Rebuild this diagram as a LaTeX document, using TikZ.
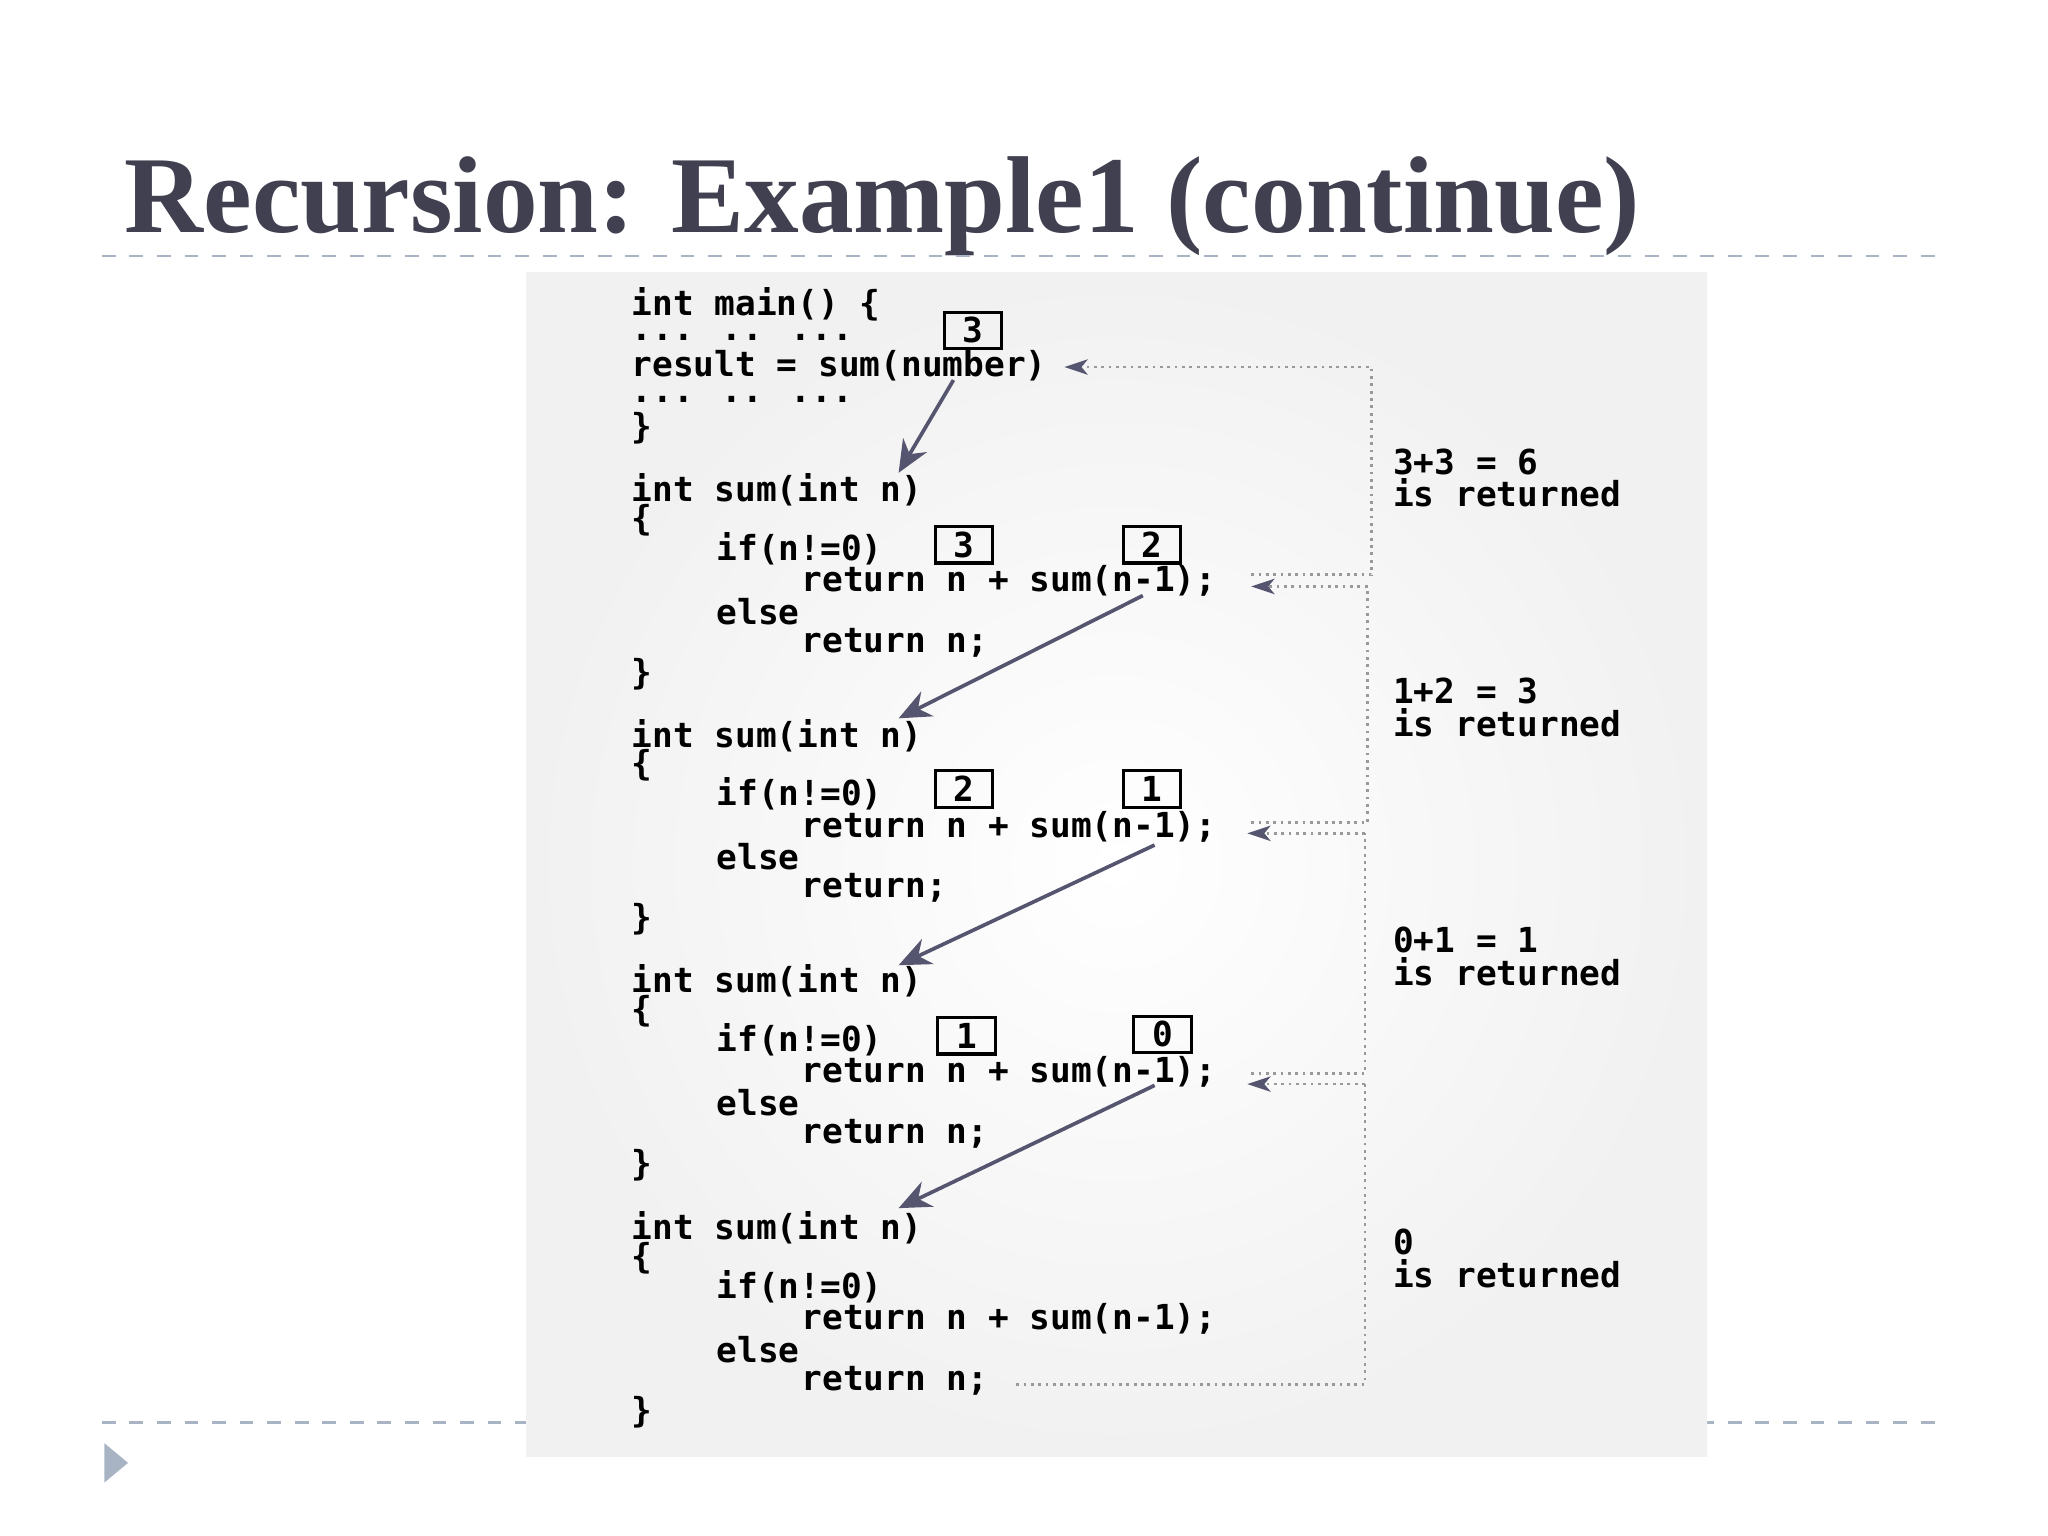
\documentclass[tikz,border=0pt]{standalone}
\usepackage{fontspec}
\setmainfont{Liberation Serif}
\newfontfamily\codefont{DejaVu Sans Mono}
\usetikzlibrary{arrows.meta}
\definecolor{titlec}{HTML}{404050}
\definecolor{rulec}{HTML}{A8B4C4}
\definecolor{arrc}{HTML}{555570}
\tikzset{
 code/.style={anchor=west,inner sep=0pt,font=\codefont\bfseries\fontsize{7.5}{9}\selectfont},
 numbox/.style={draw,line width=0.7pt,minimum width=0.44cm,minimum height=0.28cm,inner sep=0pt,font=\codefont\bfseries\fontsize{7.5}{9}\selectfont},
 call/.style={draw=arrc,line width=0.8pt,-{Stealth[length=7pt,width=6pt]}},
 ret/.style={draw=gray!80,densely dotted,line width=0.6pt},
}
\begin{document}
\begin{tikzpicture}[x=0.01cm,y=-0.01cm]
\useasboundingbox (0,0) rectangle (1568,1176);
\fill[white] (0,0) rectangle (1568,1176);
\node[anchor=base west,inner sep=0pt,text=titlec,font=\fontsize{23.8}{27}\selectfont\bfseries] (title) at (95,178) {Recursion: Example1 (continue)};
\draw[rulec,dashed,line width=0.6pt] (78,196) -- (1490,196);
\draw[rulec,dashed,line width=0.6pt] (78,1089) -- (1490,1089);
\fill[rulec] (80,1105) -- (98,1120) -- (80,1135) -- cycle;
\shade[inner color=white,outer color=gray!11] (403,209) rectangle (1307,1115);
% block 0
\node[code] (m1) at (483,233) {int main() \{};
\node[code] (m2) at (483,258) {... .. ...};
\node[code] (m3) at (483,280) {result = sum(number)};
\node[code] (m4) at (483,306) {... .. ...};
\node[code] (m5) at (483,328) {\}};
\node[numbox] (b0) at (745,253) {3};
% blocks
\foreach \k/\y/\el in {1/375/return n;,2/563/return;,3/751/return n;,4/940/return n;}{
 \node[code] (s\k a) at (483,\y) {int sum(int n)};
 \node[code] (s\k b) at (483,\y+23) {\{};
 \node[code] (s\k c) at (548,\y+45) {if(n!=0)};
 \node[code] (s\k d) at (613,\y+70) {return n + sum(n-1);};
 \node[code] (s\k e) at (548,\y+93) {else};
 \node[code] (s\k f) at (613,\y+117) {\el};
 \node[code] (s\k g) at (483,\y+141) {\}};
}
\node[numbox] (b1a) at (738,417) {3};
\node[numbox] (b1b) at (882,417) {2};
\node[numbox] (b2a) at (738,604) {2};
\node[numbox] (b2b) at (882,604) {1};
\node[numbox] (b3a) at (740,793) {1};
\node[numbox] (b3b) at (890,792) {0};
% calls
\coordinate (c0) at (730,291); \coordinate (t1) at (688,362);
\coordinate (c1) at (875,456); \coordinate (t2) at (688,550);
\coordinate (c2) at (884,647); \coordinate (t3) at (688,739);
\coordinate (c3) at (884,831); \coordinate (t4) at (688,925);
\draw[call] (c0) -- (t1);
\draw[call] (c1) -- (t2);
\draw[call] (c2) -- (t3);
\draw[call] (c3) -- (t4);
% returns
\draw[ret] (958,440) -- (1050,440) -- (1050,281) -- (830,281);
\draw[ret] (1047,449) -- (970,449);
\draw[ret] (958,630) -- (1047,630) -- (1047,449);
\draw[ret] (1045,638) -- (970,638);
\draw[ret] (958,822) -- (1045,822) -- (1045,638);
\draw[ret] (1045,830) -- (970,830);
\draw[ret] (778,1060) -- (1045,1060) -- (1045,830);
\foreach \p in {(815,281),(958,449),(955,638),(955,830)}{
 \fill[arrc] \p -- ++(18,-6) -- ++(-5,6) -- ++(5,6) -- cycle;}
% labels
\node[code] (l1) at (1066,354) {3+3 = 6};
\node[code] (l1b) at (1066,377) {is returned};
\node[code] (l2) at (1066,529) {1+2 = 3};
\node[code] (l2b) at (1066,553) {is returned};
\node[code] (l3) at (1066,720) {0+1 = 1};
\node[code] (l3b) at (1066,744) {is returned};
\node[code] (l4) at (1066,951) {0};
\node[code] (l4b) at (1066,975) {is returned};
\end{tikzpicture}
\end{document}
